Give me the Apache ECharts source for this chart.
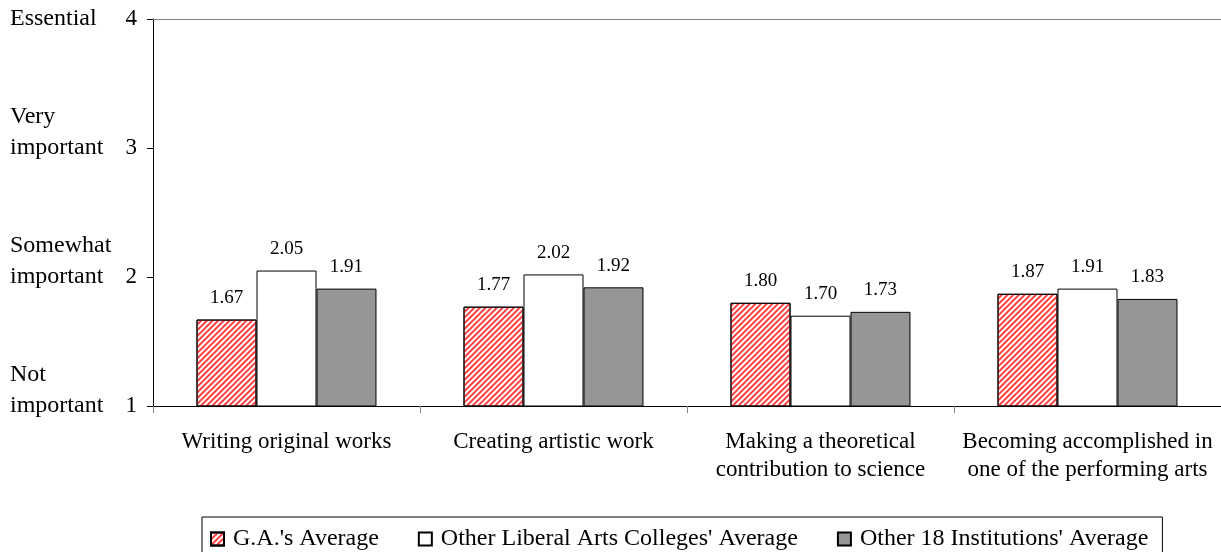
<!DOCTYPE html>
<html>
<head>
<meta charset="utf-8">
<script src="https://cdn.jsdelivr.net/npm/echarts@6/dist/echarts.min.js"></script>
<style>
  html, body { margin: 0; padding: 0; background: #fff; }
  #chart { width: 1221px; height: 552px; }
</style>
</head>
<body>
<div id="chart"></div>
<script>
// Mean importance ratings (1 = Not important ... 4 = Essential)
const categories = [
  'Writing original works',
  'Creating artistic work',
  'Making a theoretical\ncontribution to science',
  'Becoming accomplished in\none of the performing arts'
];
const seriesNames = [
  "G.A.'s Average",
  "Other Liberal Arts Colleges' Average",
  "Other 18 Institutions' Average"
];
const gaAverage = [1.67, 1.77, 1.80, 1.87];
const liberalArtsAverage = [2.05, 2.02, 1.70, 1.91];
const institutionsAverage = [1.91, 1.92, 1.73, 1.83];
const scaleLabels = { 1: 'Not\nimportant', 2: 'Somewhat\nimportant', 3: 'Very\nimportant', 4: 'Essential' };

const FONT = '"Liberation Serif", "Times New Roman", serif';

const chart = echarts.init(document.getElementById('chart'), null, { renderer: 'canvas' });

const labelStyle = {
  show: true,
  position: 'top',
  distance: 12,
  fontFamily: FONT,
  fontSize: 19,
  color: '#000',
  formatter: p => p.value.toFixed(2)
};

chart.setOption({
  animation: false,
  backgroundColor: '#fff',
  grid: { left: 153, right: 0, top: 19, bottom: 146, containLabel: false },
  legend: {
    data: seriesNames,
    icon: 'rect',
    left: 202,
    top: 517,
    padding: [10, 14, 14, 8],
    itemWidth: 13,
    itemHeight: 13,
    itemGap: 39,
    borderColor: '#000',
    borderWidth: 1,
    textStyle: { fontFamily: FONT, fontSize: 24, color: '#000', padding: [0, 0, 0, 4] }
  },
  xAxis: [
    {
      type: 'category',
      data: categories,
      position: 'bottom',
      axisLine: { lineStyle: { color: '#000', width: 1 } },
      axisTick: { show: true, length: 7, lineStyle: { color: '#808080' } },
      axisLabel: { fontFamily: FONT, fontSize: 23, color: '#000', margin: 22, lineHeight: 28, interval: 0 },
      splitLine: { show: false }
    },
    {
      type: 'category',
      data: categories,
      position: 'top',
      axisLine: { lineStyle: { color: '#808080', width: 1 } },
      axisTick: { show: false },
      axisLabel: { show: false },
      splitLine: { show: false }
    }
  ],
  yAxis: [
    {
      type: 'value',
      min: 1,
      max: 4,
      interval: 1,
      position: 'left',
      axisLine: { show: true, lineStyle: { color: '#000', width: 1 } },
      axisTick: { show: true, length: 6, lineStyle: { color: '#000' } },
      axisLabel: { fontFamily: FONT, fontSize: 23, color: '#000', margin: 16 },
      splitLine: { show: false }
    },
    {
      type: 'value',
      min: 1,
      max: 4,
      interval: 1,
      position: 'left',
      axisLine: { show: false },
      axisTick: { show: false },
      splitLine: { show: false },
      axisLabel: {
        fontFamily: FONT,
        fontSize: 24,
        color: '#000',
        align: 'left',
        margin: 143,
        lineHeight: 31,
        // two-line labels get a blank third line so the second line sits on the tick
        formatter: v => {
          const t = scaleLabels[v] || '';
          return t.indexOf('\n') >= 0 ? t + '\n ' : t;
        }
      }
    }
  ],
  series: [
    {
      name: seriesNames[0],
      type: 'bar',
      data: gaAverage,
      barGap: '0%',
      barCategoryGap: '32.6%',
      itemStyle: {
        color: '#fff',
        borderColor: '#000',
        borderWidth: 1,
        decal: {
          symbol: 'rect',
          color: 'rgba(255, 30, 30, 0.85)',
          dashArrayX: [1, 0],
          dashArrayY: [2, 2],
          rotation: -Math.PI / 4
        }
      },
      label: labelStyle
    },
    {
      name: seriesNames[1],
      type: 'bar',
      data: liberalArtsAverage,
      barGap: '0%',
      barCategoryGap: '32.6%',
      itemStyle: { color: '#fff', borderColor: '#000', borderWidth: 1 },
      label: labelStyle
    },
    {
      name: seriesNames[2],
      type: 'bar',
      data: institutionsAverage,
      barGap: '0%',
      barCategoryGap: '32.6%',
      itemStyle: { color: '#969696', borderColor: '#000', borderWidth: 1 },
      label: labelStyle
    }
  ]
});
</script>
</body>
</html>
